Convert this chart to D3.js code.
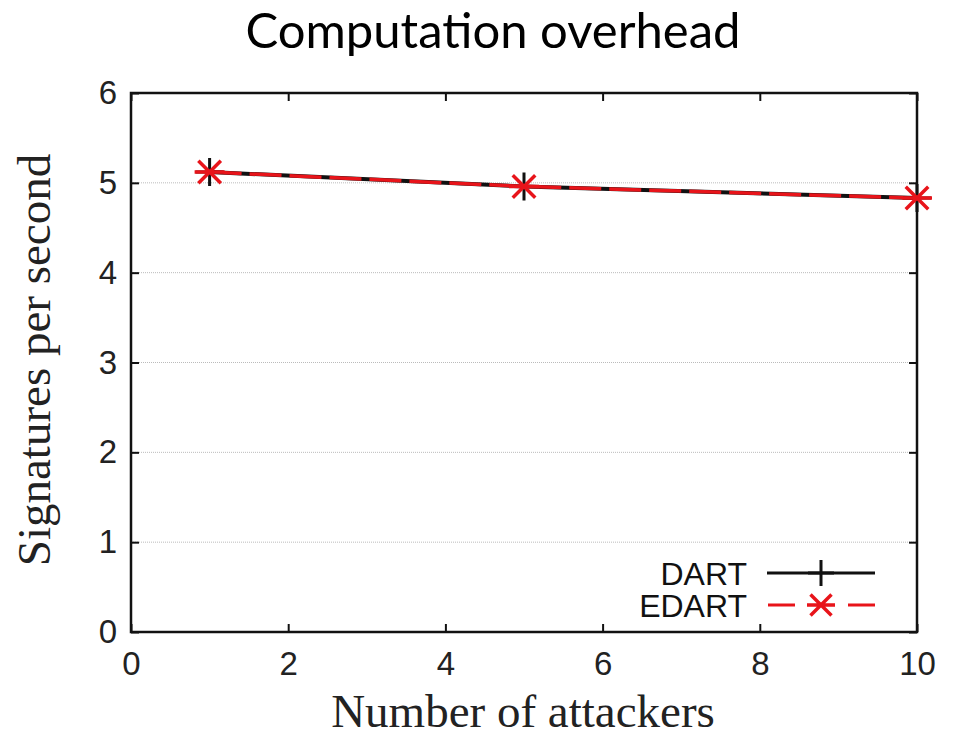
<!DOCTYPE html>
<html>
<head>
<meta charset="utf-8">
<script src="https://cdn.jsdelivr.net/npm/d3@7"></script>
<style>
  body { margin: 0; background: #fff; }
</style>
</head>
<body>
<div id="chart"></div>
<script>
// 计算开销图

const attackers = [1, 5, 10];
const dartValues = [5.12, 4.96, 4.83];
const edartValues = [5.12, 4.96, 4.83];
const xTicks = [0, 2, 4, 6, 8, 10];
const yTicks = [0, 1, 2, 3, 4, 5, 6];
const seriesNames = ['DART', 'EDART'];

const width = 957;
const height = 737;
const margin = { top: 93, left: 131 };
const innerWidth = 917 - margin.left;
const innerHeight = 632 - margin.top;

const svg = d3.select('#chart')
    .append('svg')
    .attr('width', width)
    .attr('height', height);

const g = svg.append('g')
    .attr('transform', `translate(${margin.left},${margin.top})`);

const xScale = d3.scaleLinear().domain([0, 10]).range([0, innerWidth]);
const yScale = d3.scaleLinear().domain([0, 6]).range([innerHeight, 0]);

// 网格
g.selectAll('.grid')
    .data(yTicks.filter(d => d > 0 && d < 6))
    .enter()
    .append('line')
    .attr('x1', 0)
    .attr('x2', innerWidth)
    .attr('y1', d => yScale(d))
    .attr('y2', d => yScale(d))
    .attr('stroke', '#bbb')
    .attr('stroke-width', 1)
    .attr('stroke-dasharray', '1,1');

// 坐标轴（刻度朝内，镜像）
const tickLen = 8;
const axisFont = '"Liberation Sans", Arial, sans-serif';

const xAxis = g.append('g')
    .attr('transform', `translate(0,${innerHeight})`)
    .call(d3.axisBottom(xScale).tickValues(xTicks).tickSize(-tickLen).tickPadding(18).tickFormat(d3.format('d')));
const yAxis = g.append('g')
    .call(d3.axisLeft(yScale).tickValues(yTicks).tickSize(-tickLen).tickPadding(14).tickFormat(d3.format('d')));
const topAxis = g.append('g')
    .call(d3.axisTop(xScale).tickValues(xTicks).tickSize(-tickLen).tickFormat(''));
const rightAxis = g.append('g')
    .attr('transform', `translate(${innerWidth},0)`)
    .call(d3.axisRight(yScale).tickValues(yTicks).tickSize(-tickLen).tickFormat(''));
topAxis.selectAll('text').remove();
rightAxis.selectAll('text').remove();

g.selectAll('.domain').remove();
g.selectAll('.tick line').attr('stroke', '#111').attr('stroke-width', 2);
[xAxis, yAxis].forEach(a => a.selectAll('text')
    .style('font-family', axisFont)
    .style('font-size', '33px')
    .attr('fill', '#222'));
xAxis.selectAll('text').attr('dy', '0.75em');

// 边框
g.append('rect')
    .attr('width', innerWidth)
    .attr('height', innerHeight)
    .attr('fill', 'none')
    .attr('stroke', '#111')
    .attr('stroke-width', 2.5);

// 折线
const dartData = attackers.map((x, i) => [x, dartValues[i]]);
const edartData = attackers.map((x, i) => [x, edartValues[i]]);
const line = d3.line().x(d => xScale(d[0])).y(d => yScale(d[1]));

g.append('path')
    .datum(dartData)
    .attr('d', line)
    .attr('fill', 'none')
    .attr('stroke', '#111')
    .attr('stroke-width', 4);

g.append('path')
    .datum(edartData)
    .attr('d', line)
    .attr('fill', 'none')
    .attr('stroke', '#e8141a')
    .attr('stroke-width', 3.5)
    .attr('stroke-dasharray', '32,8');

// 标记
function plusPath(s) {
    return `M${-s},0H${s}M0,${-s}V${s}`;
}
function starPath(s) {
    const d = s * 0.75;
    return `M${-s},0H${s}M${-d},${-d}L${d},${d}M${-d},${d}L${d},${-d}`;
}

g.selectAll('.dart-pt')
    .data(dartData)
    .enter()
    .append('path')
    .attr('transform', d => `translate(${xScale(d[0])},${yScale(d[1])})`)
    .attr('d', plusPath(14))
    .attr('stroke', '#111')
    .attr('stroke-width', 3);

g.selectAll('.edart-pt')
    .data(edartData)
    .enter()
    .append('path')
    .attr('transform', d => `translate(${xScale(d[0])},${yScale(d[1])})`)
    .attr('d', starPath(15))
    .attr('stroke', '#e8141a')
    .attr('stroke-width', 3.5);

// 图例
const legend = svg.append('g');
const legendY = [573, 605];
seriesNames.forEach((name, i) => {
    legend.append('text')
        .attr('x', 747)
        .attr('y', legendY[i])
        .attr('dy', '0.36em')
        .attr('text-anchor', 'end')
        .style('font-family', axisFont)
        .style('font-size', '32px')
        .attr('fill', '#111')
        .text(name);
});
legend.append('line')
    .attr('x1', 767).attr('x2', 875)
    .attr('y1', legendY[0]).attr('y2', legendY[0])
    .attr('stroke', '#111').attr('stroke-width', 3);
legend.append('path')
    .attr('transform', `translate(821,${legendY[0]})`)
    .attr('d', plusPath(13))
    .attr('stroke', '#111').attr('stroke-width', 3);
legend.append('line')
    .attr('x1', 768).attr('x2', 875)
    .attr('y1', legendY[1]).attr('y2', legendY[1])
    .attr('stroke', '#e8141a').attr('stroke-width', 3)
    .attr('stroke-dasharray', '27,53');
legend.append('path')
    .attr('transform', `translate(821,${legendY[1]})`)
    .attr('d', starPath(14))
    .attr('stroke', '#e8141a').attr('stroke-width', 3.5);

// 标题与轴标签
svg.append('text')
    .attr('x', 493)
    .attr('y', 48)
    .attr('text-anchor', 'middle')
    .style('font-family', 'Lato, "Noto Sans", sans-serif')
    .style('font-size', '49px')
    .attr('fill', '#000')
    .text('Computation overhead');

svg.append('text')
    .attr('x', 523)
    .attr('y', 727)
    .attr('text-anchor', 'middle')
    .style('font-family', '"Liberation Serif", "Times New Roman", serif')
    .style('font-size', '47px')
    .attr('fill', '#222')
    .text('Number of attackers');

svg.append('text')
    .attr('transform', 'rotate(-90)')
    .attr('x', -360)
    .attr('y', 50)
    .attr('text-anchor', 'middle')
    .style('font-family', '"Liberation Serif", "Times New Roman", serif')
    .style('font-size', '47px')
    .attr('fill', '#222')
    .text('Signatures per second');
</script>
</body>
</html>
